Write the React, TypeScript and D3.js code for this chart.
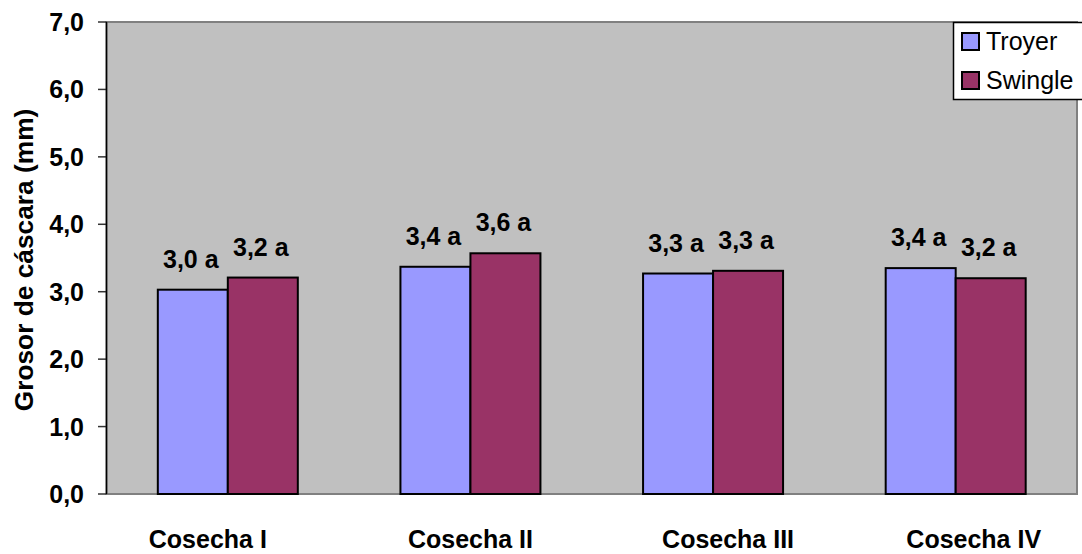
import React from "react";
import * as d3 from "d3";

const categories = ["Cosecha I", "Cosecha II", "Cosecha III", "Cosecha IV"];
const seriesNames = ["Troyer", "Swingle"];
const troyer = [3.03, 3.37, 3.27, 3.35];
const swingle = [3.21, 3.57, 3.31, 3.2];
const troyerLabels = ["3,0 a", "3,4 a", "3,3 a", "3,4 a"];
const swingleLabels = ["3,2 a", "3,6 a", "3,3 a", "3,2 a"];
const yTicks = [0, 1, 2, 3, 4, 5, 6, 7];
const colors = ["#9999FF", "#993366"];
// small horizontal nudges of the category labels (as placed in the original)
const catLabelNudge = [-20, 0, 15, 18];

const W = 1082;
const H = 554;
const left = 106.5;
const right = 1077;
const top = 22;
const bottom = 494;
const FONT = "Arial, 'Liberation Sans', sans-serif";
const SY = 1.06;

function T({ x, y, anchor = "start", bold = true, size = 25, children }: any) {
  return (
    <text
      transform={`translate(${x},${y}) scale(1,${SY})`}
      textAnchor={anchor}
      fontFamily={FONT}
      fontWeight={bold ? "bold" : "normal"}
      fontSize={size}
      fill="#000"
    >
      {children}
    </text>
  );
}

export default function App() {
  const y = d3.scaleLinear().domain([0, 7]).range([bottom, top]);
  const x0 = d3
    .scaleBand<string>()
    .domain(categories)
    .range([left, right])
    .paddingInner(0.423)
    .paddingOuter(0.2115);
  const x1 = d3.scaleBand<string>().domain(seriesNames).range([0, x0.bandwidth()]);
  const values = [troyer, swingle];
  const labels = [troyerLabels, swingleLabels];

  return (
    <svg width={W} height={H} style={{ position: "absolute", left: 0, top: 0 }}>
      <rect x={0} y={0} width={W} height={H} fill="#fff" />
      <rect x={left} y={top} width={right - left} height={bottom - top} fill="#C0C0C0" stroke="#808080" strokeWidth={2} />
      {yTicks.map((t) => (
        <g key={t}>
          <line x1={98} x2={left} y1={y(t)} y2={y(t)} stroke="#333" strokeWidth={1.5} />
          <T x={84} y={y(t) + 9} anchor="end">
            {t.toFixed(1).replace(".", ",")}
          </T>
        </g>
      ))}
      {categories.map((c, i) => (
        <g key={c}>
          {seriesNames.map((s, j) => {
            const bx = (x0(c) as number) + (x1(s) as number);
            const v = values[j][i];
            return (
              <g key={s}>
                <rect x={bx} y={y(v)} width={x1.bandwidth()} height={bottom - y(v)} fill={colors[j]} stroke="#000" strokeWidth={2} />
                <T x={bx + x1.bandwidth() / 2 - 2} y={y(v) - 22} anchor="middle">
                  {labels[j][i]}
                </T>
              </g>
            );
          })}
          <T x={(x0(c) as number) + x0.bandwidth() / 2 + catLabelNudge[i]} y={548} anchor="middle">
            {c}
          </T>
        </g>
      ))}
      <line x1={left} x2={left} y1={top} y2={bottom} stroke="#000" strokeWidth={1.5} />
      <text transform={`translate(33,${(top + bottom) / 2 + 2}) rotate(-90)`} textAnchor="middle" fontFamily={FONT} fontWeight="bold" fontSize={26.3} fill="#000">
        Grosor de cáscara (mm)
      </text>
      <rect x={953.5} y={22.5} width={140} height={77} fill="#fff" stroke="#000" strokeWidth={1.5} />
      {seriesNames.map((s, j) => (
        <g key={s}>
          <rect x={962} y={33 + j * 39} width={17} height={17} fill={colors[j]} stroke="#000" strokeWidth={2} />
          <T x={986} y={50 + j * 39} bold={false}>
            {s}
          </T>
        </g>
      ))}
    </svg>
  );
}
